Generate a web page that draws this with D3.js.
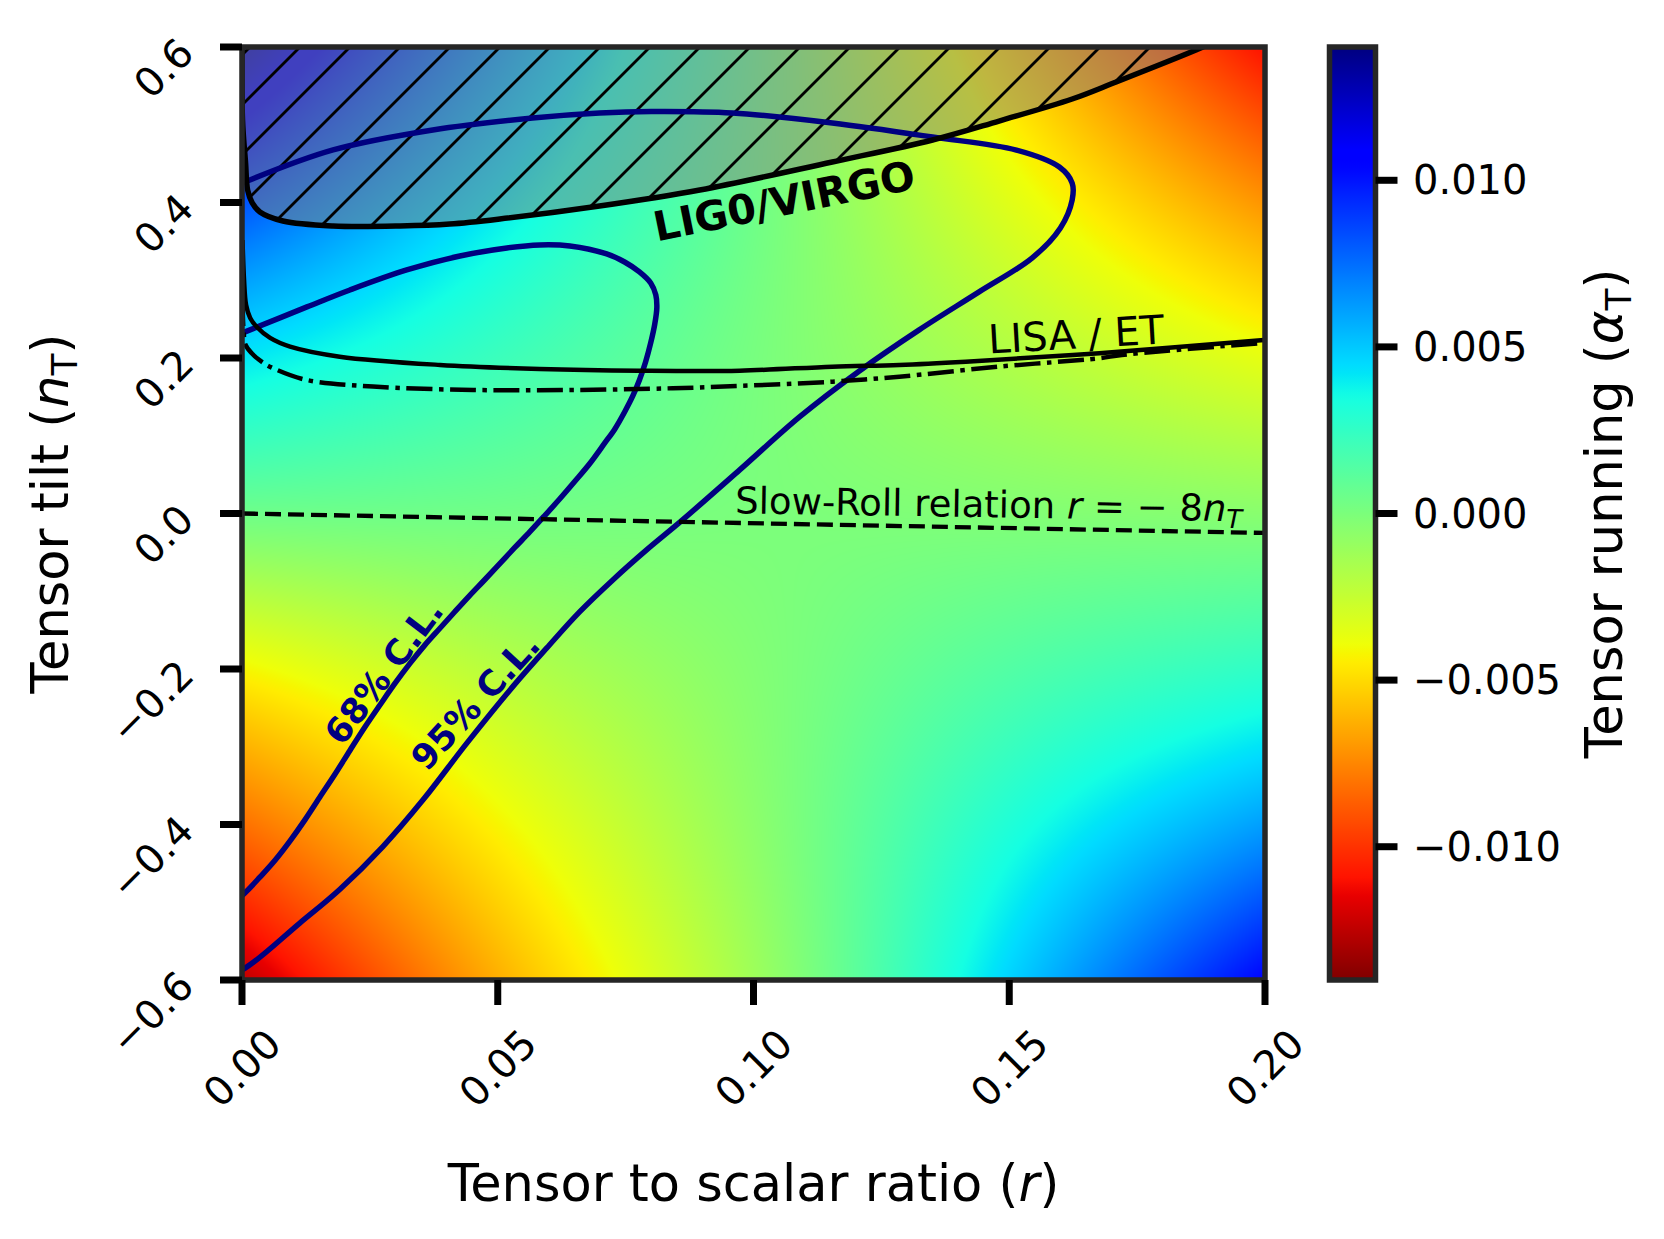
<!DOCTYPE html>
<html><head><meta charset="utf-8">
<script src="https://cdn.jsdelivr.net/npm/d3@7"></script>
<style>
html,body{margin:0;padding:0;background:#fff;}
svg{display:block;font-family:"DejaVu Sans",sans-serif;}
</style></head><body>
<svg id="chart" width="1664" height="1239"></svg>
<script>
// ---------------- data ----------------
const rTicks = [0, 0.05, 0.10, 0.15, 0.20];
const rTickLabels = ["0.00", "0.05", "0.10", "0.15", "0.20"];
const nTicks = [-0.6, -0.4, -0.2, 0, 0.2, 0.4, 0.6];
const nTickLabels = ["\u22120.6", "\u22120.4", "\u22120.2", "0.0", "0.2", "0.4", "0.6"];
const cbTicks = [-0.010, -0.005, 0, 0.005, 0.010];
const cbTickLabels = ["\u22120.010", "\u22120.005", "0.000", "0.005", "0.010"];
const cbRange = [-0.014, 0.014];

// tensor running sampled on a coarse grid (rows: n_T, columns: r)
const gridR = [0, 0.05, 0.10, 0.15, 0.20];
const gridN = [0.6, 0.4, 0.2, 0.0, -0.2, -0.4, -0.6];
const running = [
  [ 0.0125,  0.0060,  0.0010, -0.0055, -0.0110],
  [ 0.0082,  0.0040,  0.0006, -0.0034, -0.0070],
  [ 0.0040,  0.0022,  0.0000, -0.0018, -0.0036],
  [ 0.0008,  0.0006,  0.0000, -0.0002, -0.0004],
  [-0.0045, -0.0020, -0.0003,  0.0015,  0.0025],
  [-0.0080, -0.0042, -0.0006,  0.0034,  0.0060],
  [-0.0125, -0.0060, -0.0015,  0.0048,  0.0105]
];

// contours [r, n_T]
const cl68 = [[-0.004,-0.515],[0.0006,-0.4878],[0.0035,-0.4677],[0.0065,-0.4456],[0.0094,-0.4210],
  [0.0123,-0.3940],[0.0152,-0.3649],[0.0182,-0.3351],[0.0211,-0.3047],[0.0240,-0.2749],[0.0270,-0.2460],
  [0.0299,-0.2186],[0.0328,-0.1931],[0.0357,-0.1696],[0.0387,-0.1476],[0.0416,-0.1264],[0.0445,-0.1056],
  [0.0475,-0.0849],[0.0504,-0.0644],[0.0533,-0.0440],[0.0563,-0.0234],[0.0592,-0.0026],[0.0621,0.0186],
  [0.0650,0.0408],[0.0680,0.0643],[0.0709,0.0904],[0.0729,0.1088],[0.0748,0.1306],[0.0764,0.1512],
  [0.0777,0.1718],[0.0789,0.1949],[0.0799,0.2194],[0.0807,0.2438],[0.0811,0.2644],[0.0809,0.2811],
  [0.0799,0.2965],[0.0777,0.3107],[0.0748,0.3235],[0.0713,0.3338],[0.0641,0.3441],[0.0582,0.3454],
  [0.0518,0.3415],[0.0426,0.3312],[0.0322,0.3132],[0.0211,0.2875],[0.0127,0.2657],[0.0006,0.2336],
  [-0.004,0.222]];
const cl95 = [[-0.004,-0.597],[0.0006,-0.5847],[0.0113,-0.5268],[0.0191,-0.4836],[0.0275,-0.4287],
  [0.0354,-0.3683],[0.0440,-0.2950],[0.0529,-0.2230],[0.0596,-0.1728],[0.0660,-0.1265],[0.0725,-0.0854],
  [0.0791,-0.0468],[0.0859,-0.0095],[0.0973,0.0561],[0.1090,0.1243],[0.1207,0.1834],[0.1324,0.2362],
  [0.1441,0.2850],[0.1545,0.3288],[0.1600,0.3673],[0.1623,0.4033],[0.1623,0.4250],[0.1598,0.4456],
  [0.1514,0.4674],[0.1350,0.4842],[0.1154,0.5022],[0.0959,0.5151],[0.0800,0.5170],[0.0699,0.5151],
  [0.0568,0.5087],[0.0373,0.4933],[0.0178,0.4676],[0.0006,0.4265],[-0.005,0.41]];
const ligoVirgo = [[0.0,0.62],[0.0001,0.5060],[0.0007,0.4508],[0.0011,0.4161],[0.0020,0.3994],
  [0.0035,0.3878],[0.0080,0.3762],[0.0178,0.3698],[0.0309,0.3698],[0.0406,0.3723],[0.0504,0.3788],
  [0.0699,0.3955],[0.0895,0.4161],[0.1154,0.4521],[0.1350,0.4804],[0.1480,0.5048],[0.1623,0.5331],
  [0.1709,0.5550],[0.1865,0.5961],[0.1891,0.6038]];
const lisaET = [[0.0001,0.3518],[0.0004,0.3004],[0.0008,0.2682],[0.0016,0.2515],[0.0029,0.2399],
  [0.0055,0.2258],[0.0094,0.2146],[0.0191,0.2017],[0.0387,0.1911],[0.0582,0.1859],[0.0777,0.1837],
  [0.0973,0.1837],[0.1154,0.1889],[0.1285,0.1911],[0.1415,0.1953],[0.1676,0.2061],[0.1998,0.2232]];
const lisaAlt = [[0.0001,0.2745],[0.0003,0.2359],[0.0007,0.2168],[0.0019,0.2061],[0.0039,0.1949],
  [0.0061,0.1868],[0.0126,0.1718],[0.0256,0.1632],[0.0452,0.1589],[0.0647,0.1589],[0.0842,0.1611],
  [0.0973,0.1641],[0.1155,0.1696],[0.1285,0.1760],[0.1480,0.1889],[0.1676,0.1997],[0.1720,0.2039],
  [0.1998,0.2194]];
const slowRoll = [[0, 0], [0.2, -0.025]];

// ---------------- layout ----------------
const X0 = 242, X1 = 1265, Y0 = 47, Y1 = 980;
const CBX0 = 1329.5, CBX1 = 1375.5;
const svg = d3.select("#chart");
const x = d3.scaleLinear([0, 0.2], [X0, X1]);
const y = d3.scaleLinear([-0.6, 0.6], [Y1, Y0]);
const cy = d3.scaleLinear(cbRange, [Y1, Y0]);

// jet colormap (reversed: high values blue)
const jetR = d3.scaleLinear([0, 0.35, 0.66, 0.89, 1], [0, 0, 1, 1, 0.5]).clamp(true);
const jetG = d3.scaleLinear([0, 0.125, 0.375, 0.64, 0.91, 1], [0, 0, 1, 1, 0, 0]).clamp(true);
const jetB = d3.scaleLinear([0, 0.11, 0.34, 0.65, 1], [0.5, 1, 1, 0, 0]).clamp(true);
const tOf = d3.scaleLinear(cbRange, [1, 0]).clamp(true);
function jet(v) { const t = tOf(v); return [jetR(t) * 255, jetG(t) * 255, jetB(t) * 255]; }

// ---------------- heatmap ----------------
const W = X1 - X0, H = Y1 - Y0;
const canvas = document.createElement("canvas");
canvas.width = W; canvas.height = H;
const ctx = canvas.getContext("2d");
const img = ctx.createImageData(W, H);
const rowInterp = running.map(row => d3.interpolateBasis(row));
const tr = d3.scaleLinear(d3.extent(gridR), [0, 1]);
const tn = d3.scaleLinear([gridN[0], gridN[gridN.length - 1]], [0, 1]);
for (let i = 0; i < W; i++) {
  const r = x.invert(X0 + i + 0.5);
  const colVals = rowInterp.map(f => f(tr(r)));
  const colInterp = d3.interpolateBasis(colVals);
  for (let j = 0; j < H; j++) {
    const n = y.invert(Y0 + j + 0.5);
    const c = jet(colInterp(tn(n)));
    const k = (j * W + i) * 4;
    img.data[k] = c[0]; img.data[k + 1] = c[1]; img.data[k + 2] = c[2]; img.data[k + 3] = 255;
  }
}
ctx.putImageData(img, 0, 0);

const defs = svg.append("defs");
defs.append("clipPath").attr("id", "plotclip").append("rect")
  .attr("x", X0).attr("y", Y0).attr("width", W).attr("height", H);
const pat = defs.append("pattern").attr("id", "hatch").attr("patternUnits", "userSpaceOnUse")
  .attr("x", 47).attr("y", 0).attr("width", 50).attr("height", 50);
pat.append("rect").attr("width", 50).attr("height", 50).attr("fill", "rgb(128,128,128)").attr("fill-opacity", 0.5);
[[-10, 10, 10, -10], [0, 50, 50, 0], [40, 60, 60, 40]].forEach(s =>
  pat.append("line").attr("x1", s[0]).attr("y1", s[1]).attr("x2", s[2]).attr("y2", s[3])
    .attr("stroke", "#000").attr("stroke-width", 2.8));

svg.append("image").attr("x", X0).attr("y", Y0).attr("width", W).attr("height", H)
  .attr("preserveAspectRatio", "none").attr("href", canvas.toDataURL());

const plot = svg.append("g").attr("clip-path", "url(#plotclip)");
const line = d3.line().x(d => x(d[0])).y(d => y(d[1])).curve(d3.curveCatmullRom.alpha(0.5));

// hatched excluded region above LIGO/VIRGO curve
const hatchCap = [[0.22, 0.62], [0.22, 0.7], [-0.01, 0.7], [-0.01, 0.62]];
plot.append("path").attr("d", line(ligoVirgo) + "L" + hatchCap.map(d => x(d[0]) + "," + y(d[1])).join("L") + "Z")
  .attr("fill", "url(#hatch)").attr("stroke", "none");

// confidence contours
[cl95, cl68].forEach(c => plot.append("path").attr("d", line(c)).attr("fill", "none")
  .attr("stroke", "#000080").attr("stroke-width", 5.5).attr("stroke-linejoin", "round"));

// experiment curves
plot.append("path").attr("d", line(ligoVirgo)).attr("fill", "none").attr("stroke", "#000").attr("stroke-width", 5.5);
plot.append("path").attr("d", line(lisaAlt)).attr("fill", "none").attr("stroke", "#000").attr("stroke-width", 4.5)
  .attr("stroke-dasharray", "26,6.5,4.5,6.5");
plot.append("path").attr("d", line(lisaET)).attr("fill", "none").attr("stroke", "#000").attr("stroke-width", 4.5);
plot.append("path").attr("d", d3.line().x(d => x(d[0])).y(d => y(d[1]))(slowRoll)).attr("fill", "none")
  .attr("stroke", "#000").attr("stroke-width", 4.3).attr("stroke-dasharray", "16,7");

// annotations
function rotText(px, py, ang, txt, opts) {
  const t = svg.append("text").attr("transform", `translate(${px},${py}) rotate(${ang})`)
    .attr("text-anchor", opts.anchor || "middle").attr("font-size", opts.size)
    .attr("font-weight", opts.bold ? "bold" : "normal").attr("fill", opts.fill || "#000");
  if (opts.central) t.attr("dominant-baseline", "central");
  if (typeof txt === "string") t.text(txt);
  else txt(t);
  return t;
}
rotText(787, 215, -11.5, "LIG0/VIRGO", {size: 41, bold: true});
rotText(1077, 348.5, -3.3, "LISA / ET", {size: 40});
rotText(735, 513.3, 0.9, t => {
  t.append("tspan").text("Slow-Roll relation ");
  t.append("tspan").attr("font-style", "italic").text("r");
  t.append("tspan").text(" = \u2212 8");
  t.append("tspan").attr("font-style", "italic").text("n");
  t.append("tspan").attr("font-style", "italic").attr("font-size", 26).attr("dy", 7).text("T");
}, {size: 37, anchor: "start"});
rotText(384, 672, -53, "68% C.L.", {size: 35, bold: true, fill: "#000080", central: true});
rotText(475.5, 701.5, -47.5, "95% C.L.", {size: 35, bold: true, fill: "#000080", central: true});

// ---------------- frame, axes ----------------
svg.append("rect").attr("x", X0).attr("y", Y0).attr("width", W).attr("height", H)
  .attr("fill", "none").attr("stroke", "#262626").attr("stroke-width", 5.5);

// x ticks
svg.append("g").selectAll("line").data(rTicks).join("line")
  .attr("x1", d => x(d)).attr("x2", d => x(d)).attr("y1", Y1).attr("y2", Y1 + 25)
  .attr("stroke", "#000").attr("stroke-width", 7);
rTicks.forEach((d, i) => rotText(x(d), 1068, -45, rTickLabels[i], {size: 40, central: true}));

// y ticks
svg.append("g").selectAll("line").data(nTicks).join("line")
  .attr("x1", X0).attr("x2", X0 - 22).attr("y1", d => y(d)).attr("y2", d => y(d))
  .attr("stroke", "#000").attr("stroke-width", 7);
nTicks.forEach((d, i) => rotText(196, y(d) + 8.5, -45, nTickLabels[i], {size: 40, anchor: "end"}));

// axis titles
rotText((X0 + X1) / 2, 1201, 0, t => {
  t.append("tspan").text("Tensor to scalar ratio (");
  t.append("tspan").attr("font-style", "italic").text("r");
  t.append("tspan").text(")");
}, {size: 51});
rotText(68, (Y0 + Y1) / 2, -90, t => {
  t.append("tspan").text("Tensor tilt (");
  t.append("tspan").attr("font-style", "italic").text("n");
  t.append("tspan").attr("font-size", 36).attr("dy", 9).text("T");
  t.append("tspan").attr("dy", -9).text(")");
}, {size: 51});

// ---------------- colorbar ----------------
const grad = defs.append("linearGradient").attr("id", "cbgrad")
  .attr("x1", 0).attr("y1", 1).attr("x2", 0).attr("y2", 0);
d3.range(0, 1.0001, 0.01).forEach(f => {
  const v = cbRange[0] + f * (cbRange[1] - cbRange[0]);
  const c = jet(v);
  grad.append("stop").attr("offset", f).attr("stop-color", d3.rgb(c[0], c[1], c[2]).formatHex());
});
svg.append("rect").attr("x", CBX0).attr("y", Y0).attr("width", CBX1 - CBX0).attr("height", H)
  .attr("fill", "url(#cbgrad)").attr("stroke", "#262626").attr("stroke-width", 5.5);
svg.append("g").selectAll("line").data(cbTicks).join("line")
  .attr("x1", CBX1).attr("x2", CBX1 + 22).attr("y1", d => cy(d)).attr("y2", d => cy(d))
  .attr("stroke", "#000").attr("stroke-width", 7);
svg.append("g").selectAll("text").data(cbTicks).join("text")
  .attr("x", 1413).attr("y", d => cy(d)).attr("dominant-baseline", "central")
  .attr("font-size", 40).text((d, i) => cbTickLabels[i]);
rotText(1622, (Y0 + Y1) / 2, -90, t => {
  t.append("tspan").text("Tensor running (");
  t.append("tspan").attr("font-style", "italic").text("\u03b1");
  t.append("tspan").attr("font-size", 36).attr("dy", 9).text("T");
  t.append("tspan").attr("dy", -9).text(")");
}, {size: 51});
</script>
</body></html>
